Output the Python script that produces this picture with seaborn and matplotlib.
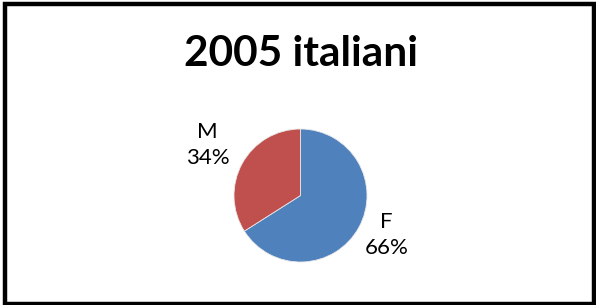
import matplotlib
matplotlib.use("Agg")
import matplotlib.pyplot as plt
import seaborn as sns
from matplotlib.patches import Rectangle

# Dati
titolo = "2005 italiani"
categorie = ["F", "M"]
valori = [66, 34]
colori = ["#4F81BD", "#C0504D"]

# Stile
sns.set_theme(style="white")
plt.rcParams["font.family"] = ["Lato", "DejaVu Sans"]

W, H = 596, 305
fig = plt.figure(figsize=(W / 100, H / 100), dpi=100)
fig.patch.set_facecolor("white")

# Cornice nera
fig.patches.append(
    Rectangle(
        (5 / W, 1.5 / H), 589 / W, 300 / H,
        transform=fig.transFigure, fill=False,
        edgecolor="black", linewidth=3.2, zorder=10,
    )
)

# Titolo
fig.text(
    300.5 / W, 1 - 66 / H, titolo,
    ha="center", va="baseline", fontsize=30.5, fontweight="bold", color="black",
)

# Torta
r = 66.5
lato = 3 * r
ax = fig.add_axes([(300.5 - lato / 2) / W, (H - 195.5 - lato / 2) / H, lato / W, lato / H])
wedges, testi = ax.pie(
    valori,
    colors=colori,
    startangle=90,
    counterclock=False,
    labels=[f"{c}\n{v}%" for c, v in zip(categorie, valori)],
    wedgeprops=dict(edgecolor="#e8e8e8", linewidth=0.6),
    textprops=dict(fontsize=16, color="black", ha="center", va="center", linespacing=1.4),
)
ax.set_xlim(-1.5, 1.5)
ax.set_ylim(-1.5, 1.5)
ax.axis("off")

# Posizione etichette (come nel grafico originale)
posizioni = {"F": (1.29, -0.59), "M": (-1.40, 0.76)}
for c, t in zip(categorie, testi):
    t.set_position(posizioni[c])
    t.set_ha("center")
    t.set_va("center")

fig.savefig("out.png", dpi=100, facecolor="white")
